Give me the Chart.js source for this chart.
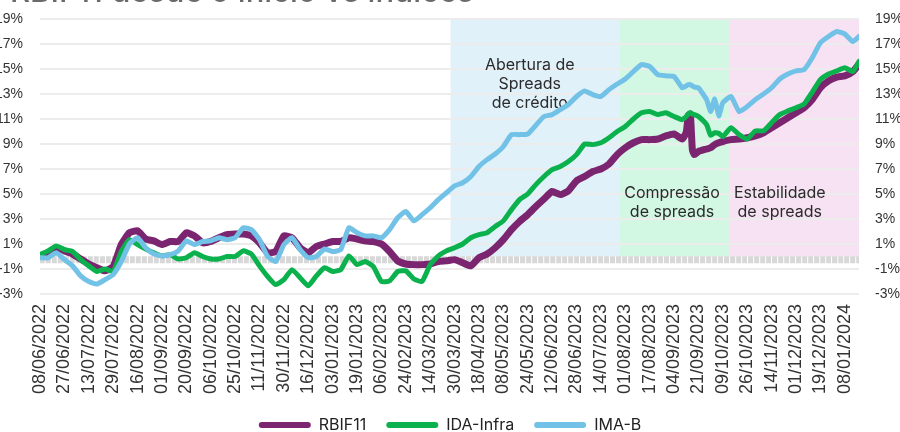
<!DOCTYPE html>
<html><head><meta charset="utf-8">
<script src="https://cdn.jsdelivr.net/npm/chart.js@4"></script>
<style>
html,body{margin:0;padding:0;background:#fff;overflow:hidden}
#wrap{position:relative;width:900px;height:432px;overflow:hidden}
#title{position:absolute;left:10px;top:-25px;font:500 31px/31px "Inter",sans-serif;color:#6a6a6a;white-space:nowrap}
canvas{position:absolute;left:0;top:0}
</style></head><body>
<div id="wrap"><canvas id="c" width="900" height="432"></canvas><div id="title">RBIF11 desde o início vs índices</div></div>
<script>
// tick labels: every 12th business day
const tickLabels = ['08/06/2022','27/06/2022','13/07/2022','29/07/2022','16/08/2022','01/09/2022','20/09/2022','06/10/2022','25/10/2022','11/11/2022','30/11/2022','16/12/2022','03/01/2023','19/01/2023','06/02/2023','24/02/2023','14/03/2023','30/03/2023','18/04/2023','08/05/2023','24/05/2023','12/06/2023','28/06/2023','14/07/2023','01/08/2023','17/08/2023','04/09/2023','21/09/2023','09/10/2023','26/10/2023','14/11/2023','01/12/2023','19/12/2023','08/01/2024'];
const lastDay = 403;
// business-day index of each sampled observation
const dayIndex = [0,4,8,12,16,20,24,28,32,36,40,44,48,52,56,60,64,68,72,76,80,84,88,92,96,100,104,108,112,116,120,124,128,132,136,140,144,148,152,156,160,164,168,172,176,180,184,188,192,196,200,204,208,212,216,220,224,228,232,236,240,244,248,252,256,260,264,268,272,276,280,284,288,292,296,300,304,308,312,316,318,319,320,321,322,324,328,330,332,334,336,340,344,348,352,356,360,364,368,372,376,380,384,388,392,396,400,403];
const rbif11 = [0,0.3,0.7,0.45,0.2,-0.2,-0.6,-0.9,-1.15,-0.8,0.95,1.9,2.05,1.4,1.25,0.95,1.2,1.2,1.9,1.65,1.1,1.2,1.5,1.75,1.8,1.8,1.65,1.1,0.3,0.4,1.65,1.5,0.7,0.3,0.8,1.0,1.2,1.2,1.5,1.4,1.25,1.2,1.0,0.4,-0.35,-0.6,-0.65,-0.65,-0.6,-0.4,-0.35,-0.25,-0.5,-0.75,-0.1,0.2,0.7,1.35,2.15,2.8,3.35,4.0,4.6,5.2,4.95,5.25,6.05,6.4,6.8,7.0,7.4,8.15,8.7,9.1,9.35,9.35,9.4,9.65,9.8,9.4,9.95,11.3,11.4,8.55,8.15,8.4,8.6,8.7,8.95,9.1,9.2,9.35,9.4,9.5,9.65,9.9,10.3,10.7,11.1,11.5,11.9,12.55,13.5,14.05,14.35,14.45,14.8,15.4];
const idaInfra = [0.15,0.45,0.85,0.55,0.4,-0.25,-0.75,-1.2,-1.0,-1.2,0.4,1.35,0.95,0.6,0.3,0.05,0.15,-0.2,-0.1,0.3,0,-0.2,-0.2,0,0,0.45,0.2,-0.75,-1.6,-2.25,-1.85,-1.05,-1.7,-2.35,-1.55,-0.9,-1.2,-1.05,0.05,-0.65,-0.4,-0.8,-2.0,-1.95,-1.2,-1.15,-1.8,-2.0,-0.65,0.05,0.45,0.7,1.0,1.5,1.75,1.9,2.4,2.85,3.75,4.55,5.0,5.75,6.4,6.95,7.2,7.6,8.15,9.0,8.95,9.1,9.5,10.0,10.4,11.0,11.5,11.6,11.35,11.5,11.2,10.95,11.2,11.4,11.5,11.4,11.35,11.2,10.55,9.7,9.9,9.85,9.6,10.3,9.75,9.4,10.05,10.05,10.7,11.35,11.65,11.9,12.2,13.15,14.15,14.6,14.85,15.1,14.8,15.6];
const imaB = [-0.1,-0.1,0.3,-0.25,-0.75,-1.55,-2.0,-2.2,-1.85,-1.45,-0.4,1.0,1.5,0.7,0.2,0.05,0.15,0.45,1.25,0.95,1.2,1.25,1.5,1.35,1.5,2.3,2.15,1.35,0,-0.4,0.95,1.5,0.55,-0.1,0,0.6,0.4,0.55,2.3,1.9,1.65,1.65,1.5,2.15,3.1,3.6,2.85,3.35,3.9,4.55,5.1,5.65,5.9,6.4,7.2,7.75,8.2,8.8,9.75,9.75,9.8,10.5,11.2,11.35,11.75,12.15,12.8,13.25,12.95,12.8,13.35,13.8,14.2,14.8,15.35,15.2,14.55,14.45,14.4,13.5,13.65,13.75,13.75,13.65,13.55,13.5,12.55,11.6,12.6,11.25,12.3,12.8,11.6,12.0,12.55,13.0,13.5,14.2,14.6,14.85,14.95,15.9,17.1,17.6,18.0,17.8,17.2,17.6];
const seriesNames = ['RBIF11','IDA-Infra','IMA-B'];
const seriesColors = ['#7b2470','#0ab14c','#72c2e8'];
// market phases (business-day index ranges)
const phaseStart = [202, 285, 339];
const phaseEnd = [285, 339, 403];
const phaseColors = ['#e1f1f9','#d2f7e3','#f7e2f3'];
const phaseText = [['Abertura de','Spreads','de crédito'],['Compressão','de spreads'],['Estabilidade','de spreads']];
const phaseTextDay = [241, 311, 364];
const phaseTextValue = [15.3, 5.1, 5.1];
const baseLevel = -0.25;

const pts = arr => dayIndex.map((d,i)=>({x:d,y:arr[i]}));

const phasePlugin = {
  id:'phases',
  beforeDraw(chart){
    const {ctx, scales:{x,y}} = chart;
    ctx.save();
    phaseStart.forEach((s,i)=>{
      const x0=x.getPixelForValue(s), x1=x.getPixelForValue(phaseEnd[i]);
      const yt=y.getPixelForValue(y.max), yb=y.getPixelForValue(0);
      ctx.fillStyle=phaseColors[i];
      ctx.fillRect(x0,yt,x1-x0,yb-yt);
    });
    ctx.restore();
  },
  beforeDatasetsDraw(chart){
    const {ctx, scales:{x,y}} = chart;
    ctx.save();
    ctx.fillStyle='#2b2b2b';
    ctx.font='16px Inter, sans-serif';
    ctx.textAlign='center'; ctx.textBaseline='middle';
    phaseText.forEach((lines,i)=>{
      const cx=x.getPixelForValue(phaseTextDay[i]), cy=y.getPixelForValue(phaseTextValue[i]);
      lines.forEach((t,j)=>ctx.fillText(t,cx,cy+j*19));
    });
    ctx.restore();
  }
};

const yTicks = {stepSize:2, padding:0, color:'#333', font:{family:'Liberation Sans', size:14}, callback:v=>v+'%'};
let xHeight = null;

const chart = new Chart(document.getElementById('c'),{
  type:'line',
  data:{datasets:[
    {label:seriesNames[0],data:pts(rbif11),borderColor:seriesColors[0],backgroundColor:seriesColors[0],borderWidth:7,order:3},
    {label:seriesNames[1],data:pts(idaInfra),borderColor:seriesColors[1],backgroundColor:seriesColors[1],borderWidth:5,order:2},
    {label:seriesNames[2],data:pts(imaB),borderColor:seriesColors[2],backgroundColor:seriesColors[2],borderWidth:5,order:1},
    {label:'base',data:[{x:0,y:baseLevel},{x:lastDay,y:baseLevel}],borderColor:'#d8d8d8',borderWidth:7,borderDash:[5,1],borderCapStyle:'butt',order:5}
  ]},
  options:{
    responsive:false, animation:false,
    layout:{padding:{top:19,bottom:0,left:0,right:0}},
    elements:{point:{radius:0},line:{tension:0.15,borderJoinStyle:'round',borderCapStyle:'round'}},
    plugins:{
      tooltip:{enabled:false},
      legend:{position:'bottom',
        labels:{filter:it=>it.text!=='base',sort:(a,b)=>a.datasetIndex-b.datasetIndex,
          generateLabels:c=>Chart.defaults.plugins.legend.labels.generateLabels(c).map(l=>Object.assign(l,{lineWidth:0,strokeStyle:'rgba(0,0,0,0)'})),
          boxWidth:52,boxHeight:6,useBorderRadius:true,borderRadius:3,padding:20,color:'#222',
          font:{family:'Inter',size:16}}}
    },
    scales:{
      x:{type:'linear',min:0,max:lastDay,
        afterBuildTicks:a=>{a.ticks=tickLabels.map((_,i)=>({value:i*12}));},
        afterFit:s=>{if(xHeight!==null) s.height=xHeight;},
        grid:{display:false},border:{display:false},
        ticks:{autoSkip:false,maxRotation:90,minRotation:90,padding:2,color:'#333',
          font:{family:'Liberation Sans',size:18},callback:v=>tickLabels[Math.round(v/12)]}},
      y:{position:'left',min:-3,max:19,ticks:yTicks,
        grid:{color:'#ececec',lineWidth:2,drawTicks:true,tickLength:17,tickColor:'rgba(0,0,0,0)'},border:{display:false},
        afterFit:s=>{s.width=40;}},
      y2:{position:'right',min:-3,max:19,ticks:yTicks,
        grid:{display:false,drawTicks:true,tickLength:16,tickColor:'rgba(0,0,0,0)'},border:{display:false},
        afterFit:s=>{s.width=41;}}
    }
  },
  plugins:[phasePlugin]
});
// settle the layout to the reference frame: plot 19..294, legend row centred at 425
(function settle(){
  const ca = chart.chartArea;
  const pad = chart.options.layout.padding;
  const dt = 19 - ca.top;
  pad.top = pad.top + dt;
  const hb = chart.legend.legendHitBoxes[0];
  const d = 425 - (hb.top + hb.height/2);
  pad.bottom = pad.bottom - d;
  xHeight = chart.scales.x.height + (ca.bottom + d - 294) - dt;
  chart.update();
})();
</script>
</body></html>
